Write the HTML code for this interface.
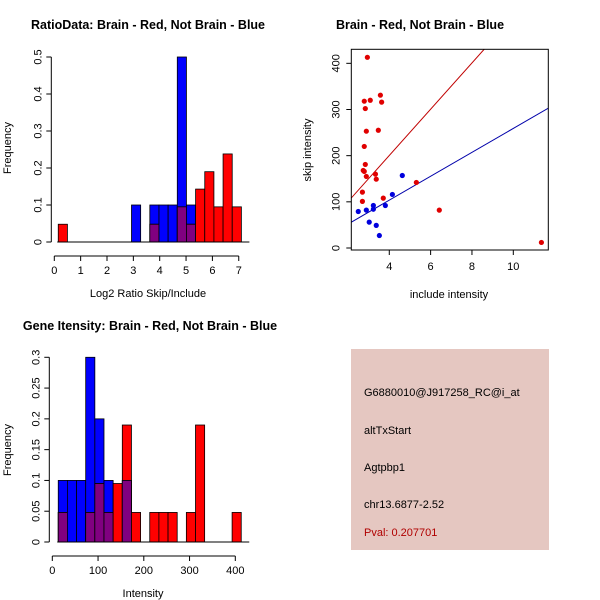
<!DOCTYPE html>
<html><head><meta charset="utf-8"><style>
body{margin:0;background:#fff}
svg{display:block;font-family:"Liberation Sans",sans-serif}
</style></head><body>
<svg id="c" width="600" height="600" viewBox="0 0 600 600">
<rect width="600" height="600" fill="#fff"/>
<text x="148" y="29" text-anchor="middle" font-size="12.5" font-weight="bold">RatioData: Brain - Red, Not Brain - Blue</text>
<text x="420" y="29" text-anchor="middle" font-size="12.5" font-weight="bold">Brain - Red, Not Brain - Blue</text>
<text x="150" y="330" text-anchor="middle" font-size="12.5" font-weight="bold">Gene Itensity: Brain - Red, Not Brain - Blue</text>
<g id="g1"></g>
<g id="g2"></g>
<g id="g3"></g>
<g>
<rect x="351" y="349" width="198" height="201" fill="#e5c7c1"/>
<text x="364" y="396" font-size="11">G6880010@J917258_RC@i_at</text>
<text x="364" y="434" font-size="11">altTxStart</text>
<text x="364" y="471" font-size="11">Agtpbp1</text>
<text x="364" y="508" font-size="11">chr13.6877-2.52</text>
<text x="364" y="536" font-size="11" fill="#b00000">Pval: 0.207701</text>
</g>
</svg>
<script>
// Ratio histogram data
const ratioBinStart = 0.15, ratioBinWidth = 0.3475;
const ratioBlue = [0,0,0,0,0,0,0,0,0.1,0,0.1,0.1,0.1,0.5,0.1,0,0,0,0,0];
const ratioRed = [0.048,0,0,0,0,0,0,0,0,0,0.048,0,0,0.095,0.048,0.143,0.19,0.095,0.238,0.095];
const ratioXTicks = [0,1,2,3,4,5,6,7];
const ratioYTicks = [0,0.1,0.2,0.3,0.4,0.5];
// Intensity histogram data
const intBinStart = 13, intBinWidth = 20;
const intBlue = [0.1,0.1,0.1,0.3,0.2,0.1,0,0.1,0,0,0,0,0,0,0,0,0,0,0,0];
const intRed = [0.048,0,0,0.048,0.095,0.048,0.095,0.19,0.048,0,0.048,0.048,0.048,0,0.048,0.19,0,0,0,0.048];
const intXTicks = [0,100,200,300,400];
const intYTicks = [0,0.05,0.1,0.15,0.2,0.25,0.3];
// Scatter data
const redX = [2.94,2.79,3.08,2.84,3.57,3.63,2.89,3.47,2.79,2.84,2.74,2.79,2.89,3.33,3.37,3.71,2.70,2.70,5.31,6.42,11.36];
const redY = [413,318,320,302,331,316,253,255,220,181,168,166,155,160,149,108,121,101,142,82,12];
const blueX = [2.50,2.89,3.23,3.23,3.81,4.15,4.63,3.03,3.37,3.52];
const blueY = [79,82,92,84,92,116,157,56,49,27];
const redSlope = 50.1, blueSlope = 25.9;
const scXTicks = [4,6,8,10];
const scYTicks = [0,100,200,300,400];

const NS="http://www.w3.org/2000/svg";
function mk(p,t,a){const e=document.createElementNS(NS,t);for(const k in a)e.setAttribute(k,a[k]);p.appendChild(e);return e;}

function hist(g,o){
  const X=v=>o.x0+(v-o.xmin)*o.xs, Y=v=>o.y0-v*o.ys;
  const n=o.blue.length;
  for(let i=0;i<n;i++){
    const a=o.start+i*o.w,b=a+o.w;
    const sets=[["blue",o.blue[i],"#0000ff"],["red",o.red[i],"#ff0000"]].sort((p,q)=>q[1]-p[1]);
    sets.forEach(s=>{ if(s[1]>0){
      const r=mk(g,"rect",{x:X(a),y:Y(s[1]),width:X(b)-X(a),height:Y(0)-Y(s[1]),fill:s[2],stroke:"#000","stroke-width":0.8});
      
      
    }});
    const m=Math.min(o.blue[i],o.red[i]);
    if(m>0){
      const r=mk(g,"rect",{x:X(a),y:Y(m),width:X(b)-X(a),height:Y(0)-Y(m),fill:"#800080",stroke:"#000","stroke-width":0.8});
      
      
    }
  }
  const end=o.start+n*o.w;
  mk(g,"line",{x1:X(o.start)-1,x2:X(end)+8,y1:Y(0),y2:Y(0),stroke:"#000"});
  const xa=mk(g,"g",{});  
  const ay=o.y0+14;
  mk(xa,"line",{x1:X(o.xt[0]),x2:X(o.xt[o.xt.length-1]),y1:ay,y2:ay,stroke:"#000"});
  o.xt.forEach(t=>{mk(xa,"line",{x1:X(t),x2:X(t),y1:ay,y2:ay+5,stroke:"#000"});
    const l=mk(xa,"text",{x:X(t),y:ay+18,"text-anchor":"middle","font-size":11});l.textContent=t;});
  const ya=mk(g,"g",{});  
  const axx=o.x0-3;
  mk(ya,"line",{x1:axx,x2:axx,y1:Y(o.yt[0]),y2:Y(o.yt[o.yt.length-1]),stroke:"#000"});
  o.yt.forEach(t=>{mk(ya,"line",{x1:axx,x2:axx-5,y1:Y(t),y2:Y(t),stroke:"#000"});
    const l=mk(ya,"text",{x:axx-10,y:Y(t),"text-anchor":"middle","font-size":11,transform:`rotate(-90 ${axx-10} ${Y(t)})`});l.textContent=t;});
  const xl=mk(g,"text",{x:o.xlx,y:o.y0+55,"text-anchor":"middle","font-size":11});xl.textContent=o.xlab;
   
  const yl=mk(g,"text",{x:11,y:o.yly,"text-anchor":"middle","font-size":11,transform:`rotate(-90 11 ${o.yly})`});yl.textContent="Frequency";
   
}
hist(document.getElementById("g1"),{x0:54.3,xmin:0,xs:26.35,y0:242,ys:370,start:ratioBinStart,w:ratioBinWidth,blue:ratioBlue,red:ratioRed,xt:ratioXTicks,yt:ratioYTicks,xlab:"Log2 Ratio Skip/Include",xlx:148,yly:148});
hist(document.getElementById("g3"),{x0:52.3,xmin:0,xs:0.4575,y0:542,ys:615.7,start:intBinStart,w:intBinWidth,blue:intBlue,red:intRed,xt:intXTicks,yt:intYTicks,xlab:"Intensity",xlx:143,yly:450});

(function(){
  const g=document.getElementById("g2");
  const X=v=>306.6+v*20.67, Y=v=>248-v*0.4617;
  const L=351.3,R=548.3,T=49.3,B=250;
  const cp=mk(g,"clipPath",{id:"sc"}); mk(cp,"rect",{x:L,y:T,width:R-L,height:B-T});
  const xmin=(L-306.6)/20.67, xmax=(R-306.6)/20.67;
  [[redSlope,"#c00000","red-fit-line"],[blueSlope,"#0000aa","blue-fit-line"]].forEach(s=>{
    const l=mk(g,"line",{x1:X(xmin),y1:Y(s[0]*xmin),x2:X(xmax),y2:Y(s[0]*xmax),stroke:s[1],"stroke-width":1,"clip-path":"url(#sc)"});
     
  });
  redX.forEach((x,i)=>{const c=mk(g,"circle",{cx:X(x),cy:Y(redY[i]),r:2.6,fill:"#e00000"});
     });
  blueX.forEach((x,i)=>{const c=mk(g,"circle",{cx:X(x),cy:Y(blueY[i]),r:2.6,fill:"#0000dd"});
     });
  const box=mk(g,"rect",{x:L,y:T,width:R-L,height:B-T,fill:"none",stroke:"#000"});
   
  scXTicks.forEach(t=>{mk(g,"line",{x1:X(t),x2:X(t),y1:B,y2:B+5,stroke:"#000"});
    const l=mk(g,"text",{x:X(t),y:B+20,"text-anchor":"middle","font-size":11});l.textContent=t;});
  scYTicks.forEach(t=>{mk(g,"line",{x1:L,x2:L-5,y1:Y(t),y2:Y(t),stroke:"#000"});
    const x=L-12;const l=mk(g,"text",{x:x,y:Y(t),"text-anchor":"middle","font-size":11,transform:`rotate(-90 ${x} ${Y(t)})`});l.textContent=t;});
  const xl=mk(g,"text",{x:449,y:298,"text-anchor":"middle","font-size":11});xl.textContent="include intensity";
   
  const yl=mk(g,"text",{x:311,y:150,"text-anchor":"middle","font-size":11,transform:"rotate(-90 311 150)"});yl.textContent="skip intensity";
   
})();
</script>
</body></html>
